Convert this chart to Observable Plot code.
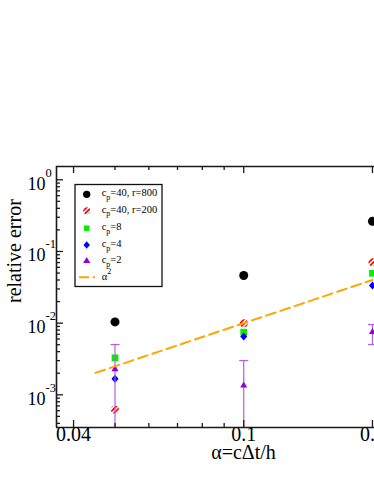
<!DOCTYPE html>
<html><head><meta charset="utf-8">
<script src="https://cdn.jsdelivr.net/npm/d3@7"></script>
<script src="https://cdn.jsdelivr.net/npm/@observablehq/plot@0.6"></script>
<style>html,body{margin:0;padding:0;overflow:hidden;background:#fff}</style>
</head><body><div id="chart"></div>
<script>
// ---- data ----
const alphas = [0.05, 0.1, 0.2];
const errCp40r800 = [0.0104, 0.0462, 0.264];
const errCp40r200 = [0.00062, 0.0100, 0.0708];
const errCp8 = [0.00328, 0.00748, 0.0497];
const errCp4 = [0.00167, 0.00651, 0.0335];
const errCp2 = [0.00228, 0.00135, 0.0075];
const errCp2Low = [0.0001, 0.0001, 0.00503];
const errCp2High = [0.00503, 0.00301, 0.00957];
const refAlpha = [0.045, 0.2];
const refAlphaSq = [0.002025, 0.04];

const xMajorTicks = [0.04, 0.1, 0.2];
const xTickLabels = ["0.04", "0.1", "0.2"];
const xMinorTicks = [0.05, 0.06, 0.07, 0.08, 0.09];
const yMajorTicks = [0.001, 0.01, 0.1, 1];
const yTickExponents = ["-3", "-2", "-1", "0"];
const yMinorTicks = [0.0004, 0.0005, 0.0006, 0.0007, 0.0008, 0.0009,
  0.002, 0.003, 0.004, 0.005, 0.006, 0.007, 0.008, 0.009,
  0.02, 0.03, 0.04, 0.05, 0.06, 0.07, 0.08, 0.09,
  0.2, 0.3, 0.4, 0.5, 0.6, 0.7, 0.8, 0.9];
const xDomain = [0.03649, 0.2022];
const yDomain = [0.00035, 1.533];

const legendMain = ["=40, r=800", "=40, r=200", "=8", "=4", "=2"];
const xTitle = "α=cΔt/h";
const yTitle = "relative error";

// ---- helpers ----
const W = 374, H = 484, mL = 56, mR = 0, mT = 166, mB = 57;
const fw = W - mL - mR, fh = H - mT - mB;
const serif = "'Liberation Serif', 'Times New Roman', serif";
const ax = "#1a1a1a";
const pts = (ys) => alphas.map((a, i) => ({a, v: ys[i]}));
const diamond = {draw(ctx, size) {const r = Math.sqrt(size / Math.PI);
  ctx.moveTo(0, -r * 1.1); ctx.lineTo(r * 0.95, 0); ctx.lineTo(0, r * 1.1); ctx.lineTo(-r * 0.95, 0); ctx.closePath();}};
const hline = {draw(ctx, size) {const r = Math.sqrt(size / Math.PI);
  ctx.moveTo(-r, 0); ctx.lineTo(r, 0);}};
const errData = alphas.map((a, i) => ({a, lo: errCp2Low[i], hi: errCp2High[i]}));
const lineData = refAlpha.map((a, i) => ({a, v: refAlphaSq[i]}));
const xLab = xMajorTicks.map((v, i) => ({v, t: xTickLabels[i]}));
const yLab = yMajorTicks.map((v, i) => ({v, t: yTickExponents[i]}));

const plot = Plot.plot({
  width: W, height: H,
  marginLeft: mL, marginRight: mR, marginTop: mT, marginBottom: mB,
  style: {fontFamily: serif, background: "white", overflow: "hidden"},
  x: {type: "log", domain: xDomain, axis: null},
  y: {type: "log", domain: yDomain, axis: null},
  marks: [
    // data
    Plot.dot(pts(errCp40r800), {x: "a", y: "v", r: 4.5, fill: "black"}),
    Plot.dot(pts(errCp40r200), {x: "a", y: "v", r: 4, fill: "url(#hatch)"}),
    Plot.dot(pts(errCp8), {x: "a", y: "v", r: 3.8, symbol: "square", fill: "#00ee00"}),
    Plot.dot(pts(errCp4), {x: "a", y: "v", r: 3.7, symbol: diamond, fill: "#0000ff"}),
    Plot.ruleX(errData, {x: "a", y1: "lo", y2: "hi", stroke: "#b25ee6", strokeWidth: 1.2, clip: true}),
    Plot.dot(errData, {x: "a", y: "hi", r: 4.5, symbol: hline, stroke: "#b25ee6", strokeWidth: 1.2, clip: true}),
    Plot.dot(errData, {x: "a", y: "lo", r: 4.5, symbol: hline, stroke: "#b25ee6", strokeWidth: 1.2, clip: true}),
    Plot.dot(pts(errCp2), {x: "a", y: "v", r: 2.6, symbol: "triangle", fill: "#9400d3"}),
    Plot.line(lineData, {x: "a", y: "v", stroke: "#ffa500", strokeWidth: 2, strokeDasharray: "10,5"}),
    // frame
    Plot.ruleX([xDomain[0]], {stroke: ax, strokeWidth: 1.6}),
    Plot.ruleY(yDomain, {stroke: ax, strokeWidth: 1.6}),
    // ticks (inward)
    Plot.tickX(xMajorTicks, {x: d => d, insetTop: fh - 7, stroke: ax, strokeWidth: 1.3}),
    Plot.tickX(xMajorTicks, {x: d => d, insetBottom: fh - 7, stroke: ax, strokeWidth: 1.3}),
    Plot.tickX(xMinorTicks, {x: d => d, insetTop: fh - 4, stroke: ax, strokeWidth: 1.3}),
    Plot.tickX(xMinorTicks, {x: d => d, insetBottom: fh - 4, stroke: ax, strokeWidth: 1.3}),
    Plot.tickY(yMajorTicks, {y: d => d, insetRight: fw - 7, stroke: ax, strokeWidth: 1.3}),
    Plot.tickY(yMinorTicks, {y: d => d, insetRight: fw - 4, stroke: ax, strokeWidth: 1.3}),
    // tick labels
    Plot.text(xLab, {x: "v", text: "t", frameAnchor: "bottom", dy: 13, fontSize: 20, fill: "black"}),
    Plot.text(yLab, {y: "v", text: () => "10", frameAnchor: "left", textAnchor: "end", dx: -11, dy: 4, fontSize: 18, fill: "black"}),
    Plot.text(yLab, {y: "v", text: "t", frameAnchor: "left", textAnchor: "start", dx: -11, dy: -7, fontSize: 12.5, fill: "black"}),
    // titles
    Plot.text([yTitle], {frameAnchor: "left", rotate: -90, dx: -42.4, dy: 6, fontSize: 20, fill: "black"}),
    Plot.text([xTitle], {frameAnchor: "bottom", dx: 28, dy: 31.6, fontSize: 20, fill: "black"})
  ]
});

document.getElementById("chart").appendChild(plot);

// hatch pattern for the r=200 series
const svg = d3.select(plot);
const defs = svg.insert("defs", ":first-child");
const pat = defs.append("pattern").attr("id", "hatch").attr("patternUnits", "userSpaceOnUse")
  .attr("width", 3.2).attr("height", 3.2).attr("patternTransform", "rotate(45)");
pat.append("rect").attr("width", 3.2).attr("height", 3.2).attr("fill", "white");
pat.append("rect").attr("width", 1.7).attr("height", 3.2).attr("fill", "#ff0000");

// legend
const lg = svg.append("g").attr("font-family", serif).attr("font-size", 10.5)
  .attr("fill", "black").attr("text-anchor", "start");
lg.append("rect").attr("x", 75).attr("y", 184.5).attr("width", 87).attr("height", 102)
  .attr("fill", "white").attr("stroke", "#111").attr("stroke-width", 1.3);
const rows = [194.3, 210.8, 228.2, 245, 261, 277.3];
const symX = 86.7, txtX = 101.7;
const legSym = [
  {type: d3.symbolCircle, size: 42, fill: "black"},
  {type: d3.symbolCircle, size: 38, fill: "url(#hatch)"},
  {type: d3.symbolSquare, size: 30, fill: "#00ee00"},
  {type: diamond, size: 36, fill: "#0000ff"},
  {type: d3.symbolTriangle, size: 22, fill: "#9400d3"}
];
legSym.forEach((s, i) => {
  lg.append("path").attr("d", d3.symbol(s.type, s.size)())
    .attr("transform", `translate(${symX},${rows[i]})`).attr("fill", s.fill);
  const t = lg.append("text").attr("x", txtX).attr("y", rows[i] + 2).attr("text-anchor", "start");
  t.append("tspan").text("c");
  t.append("tspan").attr("dy", 3.5).attr("font-size", 8).text("p");
  t.append("tspan").attr("dy", -3.5).text(legendMain[i]);
});
lg.append("line").attr("x1", 79).attr("x2", 95).attr("y1", rows[5]).attr("y2", rows[5])
  .attr("stroke", "#ffa500").attr("stroke-width", 2).attr("stroke-dasharray", "10,4");
const ta = lg.append("text").attr("x", txtX).attr("y", rows[5] + 3).attr("text-anchor", "start");
ta.append("tspan").text("α");
ta.append("tspan").attr("dy", -6).attr("font-size", 8).text("2");
</script>
</body></html>
